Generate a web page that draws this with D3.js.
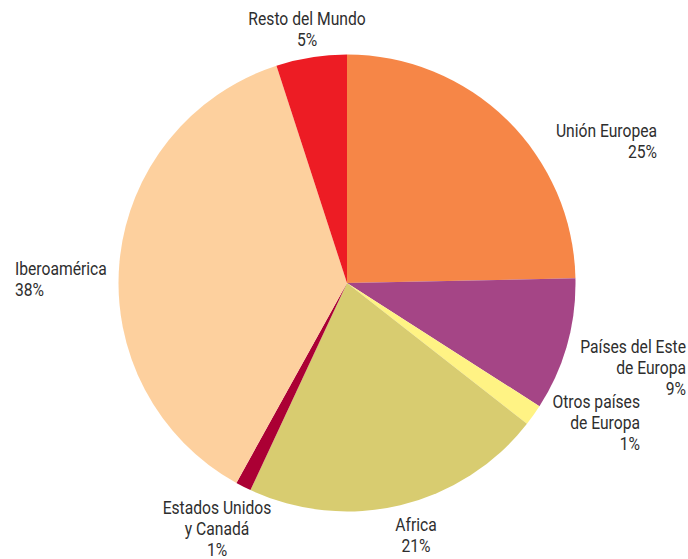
<!DOCTYPE html>
<html lang="es">
<head>
    <meta charset="UTF-8">
    <title>Distribución por regiones</title>
    <style>
        body { margin: 0; background: #fff; }
        .slice-label
        {
            font-family: "Roboto", "Liberation Sans", sans-serif;
            font-size: 18px;
            fill: #2e2e2e;
        }
    </style>
</head>
<body>

    <svg width="688" height="559"></svg>

    <script src="https://d3js.org/d3.v7.min.js"></script>

    <script>

        // Slices, clockwise from 12 o'clock (share of the pie)
        const regions = ['Unión Europea', 'Países del Este de Europa', 'Otros países de Europa',
                         'Africa', 'Estados Unidos y Canadá', 'Iberoamérica', 'Resto del Mundo'];
        const shares = [24.7, 9.4, 1.5, 21.4, 1.1, 37.0, 5.0];
        const percentLabels = ['25%', '9%', '1%', '21%', '1%', '38%', '5%'];
        const colors = ['#f68647', '#a54586', '#fff384', '#d8cc70', '#ab0034', '#fdd09e', '#ed1c24'];

        // Label text lines as printed on the chart
        const labelLines = [
            ['Unión Europea'],
            ['Países del Este', 'de Europa'],
            ['Otros países', 'de Europa'],
            ['Africa'],
            ['Estados Unidos', 'y Canadá'],
            ['Iberoamérica'],
            ['Resto del Mundo']
        ];

        const svg = d3.select('svg');

        const cx = 347, cy = 283;
        const radius = 228.5;
        const lineHeight = 21;
        // the printed labels use a condensed face; squeeze Roboto to match
        const squeeze = 0.87;

        // label anchor point (first line baseline) and alignment
        const labelPos = [
            { x: 657, y: 137, anchor: 'end' },
            { x: 686, y: 353, anchor: 'end' },
            { x: 640, y: 408, anchor: 'end' },
            { x: 416, y: 531, anchor: 'middle' },
            { x: 217, y: 514, anchor: 'middle' },
            { x: 15,  y: 275, anchor: 'start' },
            { x: 307, y: 25,  anchor: 'middle' }
        ];

        const data = regions.map(function (d, i) {
            return {
                region: d,
                share: shares[i],
                pct: percentLabels[i],
                color: colors[i],
                lines: labelLines[i].concat([percentLabels[i]]),
                pos: labelPos[i]
            };
        });

        const pie = d3.pie()
            .value(function (d) { return d.share; })
            .sort(null);

        const arc = d3.arc()
            .innerRadius(0)
            .outerRadius(radius);

        const group = svg.append('g')
            .attr('transform', 'translate(' + cx + ' ' + cy + ')');

        group.selectAll('path')
            .data(pie(data))
            .enter()
            .append('path')
            .attr('d', arc)
            .attr('fill', function (d) { return d.data.color; });

        const labels = svg.selectAll('text.slice-label')
            .data(data)
            .enter()
            .append('text')
            .attr('class', 'slice-label')
            .attr('text-anchor', function (d) { return d.pos.anchor; })
            .attr('transform', function (d) {
                return 'translate(' + d.pos.x + ' ' + d.pos.y + ') scale(' + squeeze + ' 1)';
            });

        labels.selectAll('tspan')
            .data(function (d) {
                return d.lines.map(function (l, i) {
                    return { text: l, y: i * lineHeight };
                });
            })
            .enter()
            .append('tspan')
            .attr('x', 0)
            .attr('y', function (d) { return d.y; })
            .text(function (d) { return d.text; });

    </script>

</body>
</html>
